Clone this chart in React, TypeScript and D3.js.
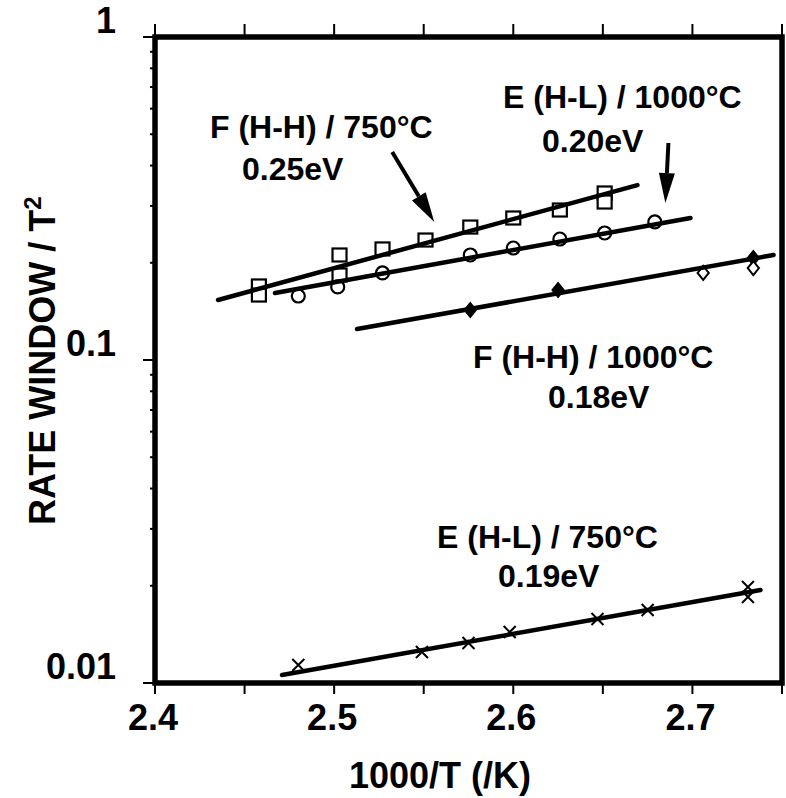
import React from 'react';
import * as d3 from 'd3';

// F (H-H) / 750°C  -- open squares
const sqX = [2.458, 2.458, 2.503, 2.503, 2.527, 2.551, 2.576, 2.600, 2.626, 2.651, 2.651];
const sqY = [0.1695, 0.1589, 0.2114, 0.1833, 0.2207, 0.2352, 0.258, 0.2752, 0.2913, 0.3289, 0.3084];
// E (H-L) / 1000°C -- open circles
const ciX = [2.480, 2.502, 2.527, 2.576, 2.600, 2.626, 2.651, 2.679];
const ciY = [0.1578, 0.1683, 0.186, 0.2114, 0.2222, 0.2369, 0.2473, 0.2675];
// F (H-H) / 1000°C -- diamonds
const diX = [2.576, 2.625, 2.706, 2.734, 2.734];
const diY = [0.1428, 0.1647, 0.186, 0.2069, 0.1926];
const diFilled = [true, true, false, true, false];
// E (H-L) / 750°C -- crosses
const crX = [2.480, 2.549, 2.575, 2.598, 2.647, 2.675, 2.731, 2.731];
const crY = [0.01137, 0.01247, 0.0133, 0.01438, 0.01578, 0.01683, 0.01983, 0.01846];

// fitted lines (end points)
const fitF750X = [2.4352, 2.6693];
const fitF750Y = [0.1534, 0.348];
const fitE1000X = [2.467, 2.6989];
const fitE1000Y = [0.1612, 0.2752];
const fitF1000X = [2.5128, 2.7453];
const fitF1000Y = [0.1247, 0.2114];
const fitE750X = [2.4709, 2.738];
const fitE750Y = [0.01059, 0.01941];

const xTicks = [2.4, 2.5, 2.6, 2.7];
const xMinor = [2.4, 2.45, 2.5, 2.55, 2.6, 2.65, 2.7, 2.75];
const yTicks = [1, 0.1, 0.01];
const yTickLabels = ['1', '0.1', '0.01'];

const W = 786, H = 798;
const left = 155, right = 782, top = 37, bottom = 683;
const font = '"Liberation Sans", Arial, sans-serif';

export default function App() {
    const x = d3.scaleLinear().domain([2.4, 2.75]).range([left, right]);
    const y = d3.scaleLog().domain([0.01, 1]).range([bottom, top]);

    const line = d3.line<[number, number]>()
        .x(d => x(d[0]))
        .y(d => y(d[1]));

    const fits = [
        [fitF750X, fitF750Y],
        [fitE1000X, fitE1000Y],
        [fitF1000X, fitF1000Y],
        [fitE750X, fitE750Y],
    ];

    const yMinor: number[] = [];
    [0.01, 0.1].forEach(base => {
        for (let k = 2; k <= 9; k++) yMinor.push(base * k);
    });

    const arrow = (x1: number, y1: number, x2: number, y2: number) => {
        const px1 = x(x1), py1 = y(y1), px2 = x(x2), py2 = y(y2);
        const ang = Math.atan2(py2 - py1, px2 - px1);
        const len = 30, half = 8;
        const bx = px2 - len * Math.cos(ang), by = py2 - len * Math.sin(ang);
        const nx = -Math.sin(ang) * half, ny = Math.cos(ang) * half;
        return (
            <g>
                <line x1={px1} y1={py1} x2={bx} y2={by} stroke="#000" strokeWidth={4} />
                <path d={`M${px2},${py2}L${bx + nx},${by + ny}L${bx - nx},${by - ny}Z`} fill="#000" />
            </g>
        );
    };

    return (
        <svg width={W} height={H} style={{ position: 'absolute', left: 0, top: 0, background: '#fff' }}
             fontFamily={font} fontWeight="bold">
            {/* ticks */}
            {xMinor.map((t, i) => (
                <g key={'xt' + i}>
                    <line x1={x(t)} x2={x(t)} y1={top} y2={top - 13} stroke="#000" strokeWidth={2} />
                    <line x1={x(t)} x2={x(t)} y1={bottom} y2={bottom + 11} stroke="#000" strokeWidth={2} />
                </g>
            ))}
            {yTicks.map((t, i) => (
                <line key={'yt' + i} x1={left} x2={left - 12} y1={y(t)} y2={y(t)} stroke="#000" strokeWidth={2} />
            ))}
            {yMinor.map((t, i) => (
                <line key={'ym' + i} x1={left} x2={left - 5} y1={y(t)} y2={y(t)} stroke="#000" strokeWidth={2} />
            ))}

            {/* frame */}
            <rect x={left} y={top} width={right - left} height={bottom - top}
                  fill="none" stroke="#000" strokeWidth={5.5} />

            {/* tick labels */}
            {xTicks.map((t, i) => (
                <text key={'xl' + i} x={x(t) - 2} y={730} fontSize={36} textAnchor="middle">{t.toFixed(1)}</text>
            ))}
            {yTicks.map((t, i) => (
                <text key={'yl' + i} x={116} y={y(t) - 4} fontSize={36} textAnchor="end">{yTickLabels[i]}</text>
            ))}

            {/* axis titles */}
            <text x={440} y={788} fontSize={36} textAnchor="middle">1000/T (/K)</text>
            <text transform="translate(55,525) rotate(-90)" fontSize={36} textAnchor="start">
                RATE WINDOW / T<tspan fontSize={24} dy={-14}>2</tspan>
            </text>

            {/* markers */}
            {sqX.map((v, i) => (
                <rect key={'sq' + i} x={x(v) - 7} y={y(sqY[i]) - 6.5} width={14} height={13}
                      fill="#fff" stroke="#000" strokeWidth={2.2} />
            ))}
            {ciX.map((v, i) => (
                <circle key={'ci' + i} cx={x(v)} cy={y(ciY[i])} r={6.5}
                        fill="#fff" stroke="#000" strokeWidth={2.2} />
            ))}
            {diX.map((v, i) => {
                const cx = x(v), cy = y(diY[i]), s = 7;
                return (
                    <path key={'di' + i} d={`M${cx},${cy - s}L${cx + s * 0.8},${cy}L${cx},${cy + s}L${cx - s * 0.8},${cy}Z`}
                          fill={diFilled[i] ? '#000' : '#fff'} stroke="#000" strokeWidth={2} />
                );
            })}
            {crX.map((v, i) => {
                const cx = x(v), cy = y(crY[i]), s = 6;
                return (
                    <path key={'cr' + i} d={`M${cx - s},${cy - s}L${cx + s},${cy + s}M${cx - s},${cy + s}L${cx + s},${cy - s}`}
                          stroke="#000" strokeWidth={2} fill="none" />
                );
            })}

            {/* fit lines */}
            {fits.map((f, i) => (
                <path key={'fit' + i}
                      d={line(f[0].map((v, j) => [v, f[1][j]] as [number, number])) || ''}
                      fill="none" stroke="#000" strokeWidth={4.5} strokeLinecap="round" />
            ))}

            {/* arrows */}
            {arrow(2.5324, 0.4406, 2.5559, 0.2675)}
            {arrow(2.6866, 0.4697, 2.6849, 0.306)}

            {/* annotations */}
            <g fontSize={32}>
                <text x={210} y={138}>F (H-H) / 750°C</text>
                <text x={242} y={180}>0.25eV</text>
                <text x={503} y={108}>E (H-L) / 1000°C</text>
                <text x={542} y={152}>0.20eV</text>
                <text x={473} y={368}>F (H-H) / 1000°C</text>
                <text x={548} y={408}>0.18eV</text>
                <text x={437} y={548}>E (H-L) / 750°C</text>
                <text x={498} y={587}>0.19eV</text>
            </g>
        </svg>
    );
}
